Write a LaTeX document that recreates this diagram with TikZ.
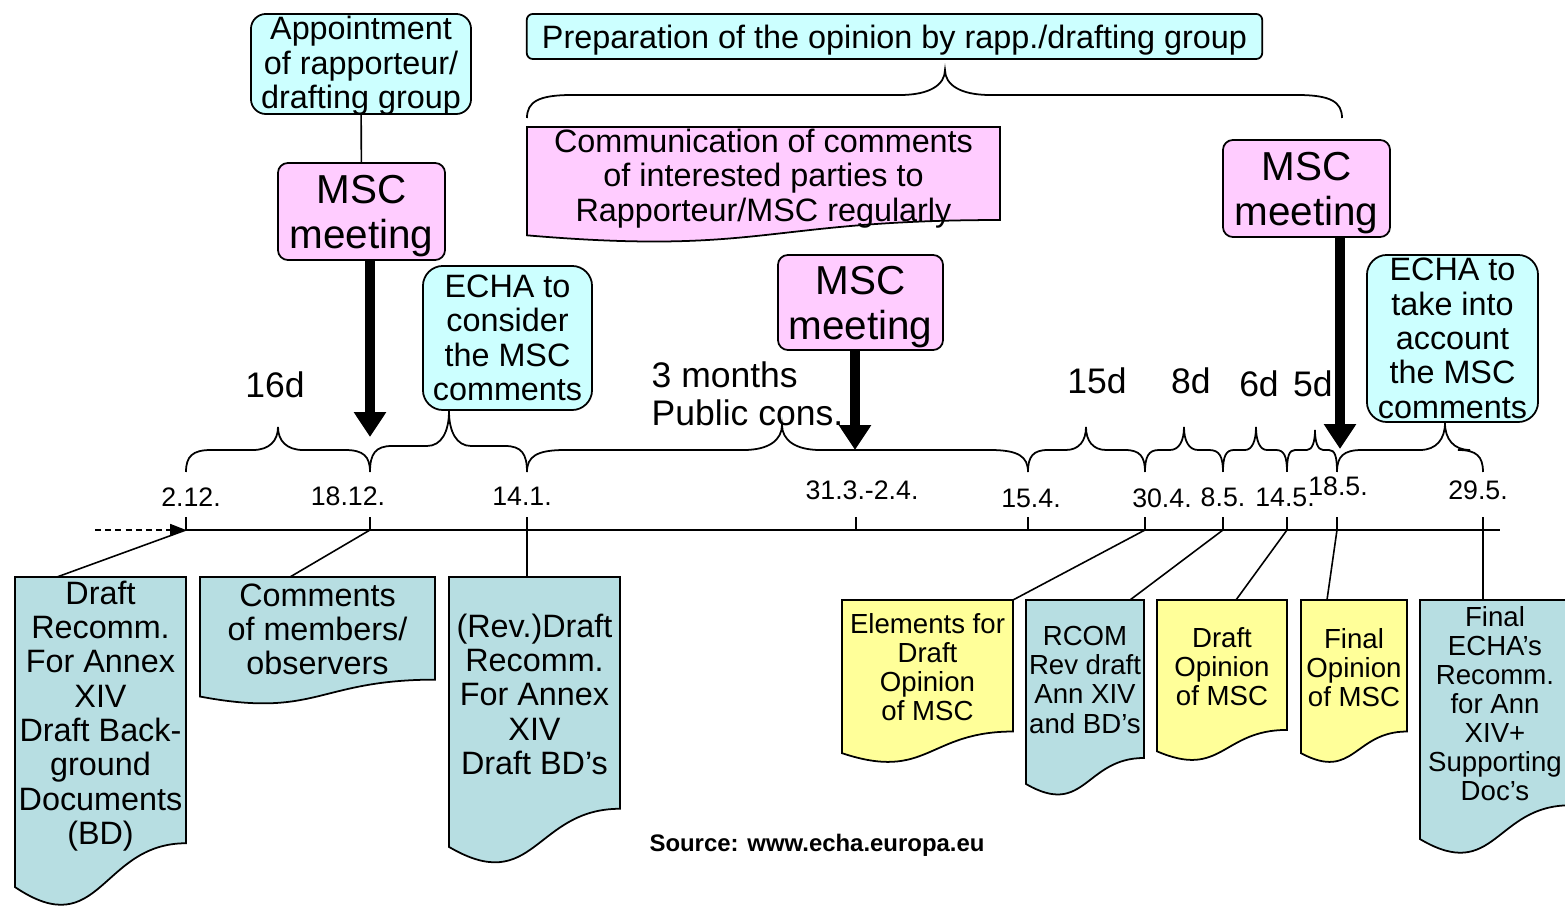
\documentclass[tikz,border=0pt]{standalone}
\usepackage{fontspec}
\setmainfont{Liberation Sans}
\usetikzlibrary{arrows.meta}
\definecolor{cyanbox}{HTML}{CCFFFF}
\definecolor{pinkbox}{HTML}{FFCCFF}
\definecolor{docblue}{HTML}{B7DEE2}
\definecolor{docyellow}{HTML}{FFFF99}
\newcommand\fBig{\fontsize{11.5pt}{12.8pt}\selectfont}
\newcommand\fMain{\fontsize{9.2pt}{9.76pt}\selectfont}
\newcommand\fSmall{\fontsize{7.85pt}{8.25pt}\selectfont}
\newcommand\fDate{\fontsize{7.6pt}{8pt}\selectfont}
\newcommand\fLbl{\fontsize{10.1pt}{10.8pt}\selectfont}
\newcommand\fSrc{\fontsize{6.8pt}{8pt}\selectfont\bfseries}
% document shape: name, x, y, w, h, fill, text style, text, text y-offset
\newcommand\docnode[9]{%
  \filldraw[docline, fill=#6] (#2,#3) -- ({#2+#4},#3) -- ({#2+#4},{#3+0.802*#5})
    .. controls ({#2+0.5*#4},{#3+0.802*#5}) and ({#2+0.5*#4},{#3+1.1075*#5}) .. (#2,{#3+0.934*#5}) -- cycle;
  \node[#7] (#1) at ({#2+0.5*#4},{#3+0.401*#5+#9}) {#8};
}
% brace: x1, x2, xtip, ybase, ytip, yend, r
\newcommand\tbrace[7]{%
  \draw[bracestyle] (#1,#6) .. controls (#1,{#4+0.3*(#6-#4)}) and ({#1+0.25*#7},#4) .. ({#1+#7},#4)
    -- ({#3-#7},#4) .. controls ({#3-0.35*#7},#4) and (#3,{#4-0.4*(#4-#5)}) .. (#3,#5)
    .. controls (#3,{#4-0.4*(#4-#5)}) and ({#3+0.35*#7},#4) .. ({#3+#7},#4)
    -- ({#2-#7},#4) .. controls ({#2-0.25*#7},#4) and (#2,{#4+0.3*(#6-#4)}) .. (#2,#6);
}
\begin{document}
\begin{tikzpicture}[x=0.01cm, y=-0.01cm,
  box/.style={draw=black, line width=0.5pt, align=center, inner sep=0pt, text=black},
  cyanr/.style={box, fill=cyanbox, rounded corners=0.15cm, font=\fMain},
  msc/.style={box, fill=pinkbox, rounded corners=0.1cm, font=\fBig, text depth=0pt,
              minimum width=1.67cm, minimum height=0.97cm},
  docline/.style={draw=black, line width=0.5pt},
  doctxt/.style={align=center, inner sep=0pt, font=\fMain},
  docsmall/.style={align=center, inner sep=0pt, font=\fSmall},
  datelbl/.style={inner sep=0pt, font=\fDate},
  lbl/.style={inner sep=0pt, font=\fLbl, align=left},
  conn/.style={line width=0.45pt},
  axis/.style={line width=0.6pt},
  thickarrow/.style={line width=2.9pt, -{Triangle[length=7.1pt,width=8.8pt]}},
  dasharrow/.style={line width=0.45pt, dash pattern=on 1.7pt off 1.2pt, -{Triangle[length=4.5pt,width=3.4pt]}},
  bracestyle/.style={line width=0.5pt}
]
\useasboundingbox (0,0) rectangle (1565,907);
\clip (0,0) rectangle (1565,907);

% top boxes
\node[cyanr, text depth=0.85pt, minimum width=2.2cm, minimum height=1.0cm] (appt) at (361,64) {Appointment\\of rapporteur/\\drafting group};
\node[box, fill=cyanbox, rounded corners=0.06cm, font=\fMain, text depth=0pt, minimum width=7.35cm, minimum height=0.45cm] (prep) at (894.5,36.5) {Preparation of the opinion by rapp./drafting group};
\tbrace{527}{1342}{945}{95}{70}{118}{45}
\docnode{comm}{527}{127}{473}{116}{pinkbox}{doctxt}{Communication of comments\\of interested parties to\\Rapporteur/MSC regularly}{5}

\node[msc] (msc1) at (361.5,211.5) {MSC\\meeting};
\node[msc, minimum width=1.65cm, minimum height=0.95cm] (msc2) at (860.5,302.5) {MSC\\meeting};
\node[msc] (msc3) at (1306.5,188.5) {MSC\\meeting};
\draw[conn] (appt) -- (msc1);

\node[cyanr, rounded corners=0.2cm, minimum width=1.69cm, minimum height=1.44cm] (echa1) at (507.5,338) {ECHA to\\consider\\the MSC\\comments};
\node[cyanr, rounded corners=0.2cm, minimum width=1.71cm, minimum height=1.67cm] (echa2) at (1452.5,338.5) {ECHA to\\take into\\account\\the MSC\\comments};

% labels
\node[lbl] (l16) at (275,385) {16d};
\node[lbl, anchor=west] (l3m) at (651,394) {3 months\\Public cons.};
\node[lbl] (l15) at (1097,381) {15d};
\node[lbl] (l8) at (1191,381) {8d};
\node[lbl] (l6) at (1259,384) {6d};
\node[lbl] (l5) at (1313,384) {5d};

% braces on timeline
\tbrace{186}{370}{278}{450}{427}{472}{25}
\tbrace{370}{527}{449}{446}{411}{472}{22}
\tbrace{527}{1028}{782}{450}{425}{472}{38}
\tbrace{1028}{1145}{1086}{450}{427}{472}{20}
\tbrace{1145}{1223}{1184}{450}{427}{472}{14}
\tbrace{1223}{1287}{1256}{450}{427}{472}{11}
\tbrace{1287}{1337}{1315}{450}{430}{472}{8}
\tbrace{1337}{1483}{1445}{450}{423}{472}{25}

% thick arrows
\coordinate (a1) at (370,437);
\coordinate (a2) at (855,450);
\coordinate (a3) at (1340,449);
\draw[thickarrow] (msc1.south -| a1) -- (a1);
\draw[thickarrow] (msc2.south -| a2) -- (a2);
\draw[thickarrow] (msc3.south -| a3) -- (a3);

% dates
\node[datelbl] (d212) at (191,497) {2.12.};
\node[datelbl] (d1812) at (348,496) {18.12.};
\node[datelbl] (d141) at (522,496) {14.1.};
\node[datelbl] (d313) at (862,490) {31.3.-2.4.};
\node[datelbl] (d154) at (1031,498) {15.4.};
\node[datelbl] (d304) at (1162,498) {30.4.};
\node[datelbl] (d85) at (1223,497) {8.5.};
\node[datelbl] (d145) at (1285,497) {14.5.};
\node[datelbl] (d185) at (1338,486) {18.5.};
\node[datelbl] (d295) at (1478,490) {29.5.};

% timeline
\coordinate (t1) at (186,530);
\coordinate (t2) at (370,530);
\coordinate (t3) at (527,530);
\coordinate (t4) at (856,530);
\coordinate (t5) at (1028,530);
\coordinate (t6) at (1145,530);
\coordinate (t7) at (1223,530);
\coordinate (t8) at (1287,530);
\coordinate (t9) at (1337,530);
\coordinate (t10) at (1483,530);
\coordinate (axend) at (1500,530);
\coordinate (dstart) at (95,530);
\draw[axis] (t1) -- (axend);
\draw[dasharrow] (dstart) -- (t1);
\foreach \t in {t1,t2,t3,t4,t5,t6,t7,t8,t9,t10}
  \draw[axis] (\t) -- ++(0,-13);

% documents
\docnode{doc1}{15}{577}{171}{332}{docblue}{doctxt}{Draft\\Recomm.\\For Annex\\XIV\\Draft Back-\\ground\\Documents\\(BD)}{6}
\docnode{doc2}{200}{577}{235}{128}{docblue}{doctxt}{Comments\\of members/\\observers}{1}
\docnode{doc3}{449}{577}{171}{289}{docblue}{doctxt}{(Rev.)Draft\\Recomm.\\For Annex\\XIV\\Draft BD’s}{1.5}
\docnode{doc4}{842}{600}{171}{164}{docyellow}{docsmall}{Elements for\\Draft\\Opinion\\of MSC}{1}
\docnode{doc5}{1026}{600}{118}{197}{docblue}{docsmall}{RCOM\\Rev draft\\Ann XIV\\and BD’s}{1}
\docnode{doc6}{1157}{600}{130}{162}{docyellow}{docsmall}{Draft\\Opinion\\of MSC}{2}
\docnode{doc7}{1301}{600}{106}{164}{docyellow}{docsmall}{Final\\Opinion\\of MSC}{2}
\docnode{doc8}{1420}{600}{150}{256}{docblue}{docsmall}{Final\\ECHA’s\\Recomm.\\for Ann\\XIV+\\Supporting\\Doc’s}{1}

% connectors to documents
\coordinate (c1) at (57,577);
\coordinate (c2) at (290,577);
\coordinate (c3) at (527,577);
\coordinate (c4) at (1013,600);
\coordinate (c5) at (1130,600);
\coordinate (c6) at (1236,600);
\coordinate (c7) at (1327,600);
\coordinate (c8) at (1483,600);
\draw[conn] (t1) -- (c1);
\draw[conn] (t2) -- (c2);
\draw[conn] (t3) -- (c3);
\draw[conn] (t6) -- (c4);
\draw[conn] (t7) -- (c5);
\draw[conn] (t8) -- (c6);
\draw[conn] (t9) -- (c7);
\draw[conn] (t10) -- (c8);

\node[inner sep=0pt, font=\fSrc] (src) at (817,845) {Source: www.echa.europa.eu};
\end{tikzpicture}
\end{document}
